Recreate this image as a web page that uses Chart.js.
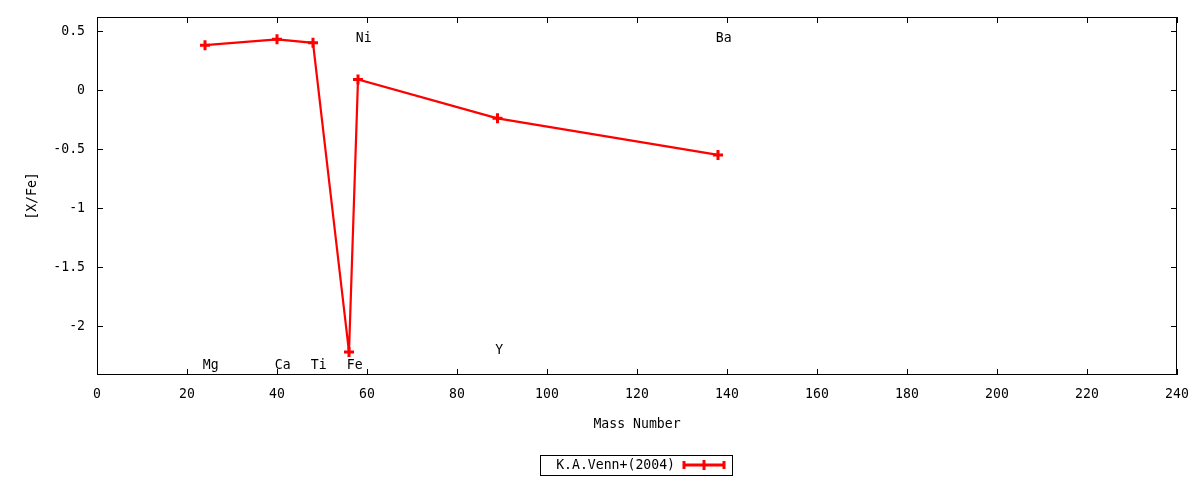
<!DOCTYPE html>
<html>
<head>
<meta charset="utf-8">
<script src="https://cdn.jsdelivr.net/npm/chart.js@4.4.1/dist/chart.umd.min.js"></script>
<style>
  html, body { margin: 0; padding: 0; background: #fff; }
  #wrap { width: 1200px; height: 480px; }
</style>
</head>
<body>
<div id="wrap"><canvas id="abund"></canvas></div>
<script>
// measured abundances, K.A.Venn+(2004)
const massNumber = [24, 40, 48, 56, 58, 89, 138];
const xFe = [0.38, 0.43, 0.40, -2.22, 0.09, -0.24, -0.55];

// element labels (left-justified at their data position)
const elemNames = ['Mg', 'Ca', 'Ti', 'Fe', 'Ni', 'Y', 'Ba'];
const elemX = [23.5, 39.5, 47.5, 55.5, 57.5, 88.5, 137.5];
const elemY = [-2.33, -2.33, -2.33, -2.33, 0.44, -2.21, 0.44];

const xTicks = [0, 20, 40, 60, 80, 100, 120, 140, 160, 180, 200, 220, 240];
const yTicks = [-2, -1.5, -1, -0.5, 0, 0.5];

const FONT = '"DejaVu Sans Mono", monospace';
const RED = '#ff0000';

// gnuplot's font is a bit narrower than DejaVu Sans Mono
function text(ctx, str, x, y, align) {
    ctx.save();
    ctx.translate(x, y);
    ctx.scale(0.94, 1);
    ctx.textAlign = align;
    ctx.fillText(str, 0, 0);
    ctx.restore();
}

const gnuplotLook = {
    id: 'gnuplotLook',
    afterDraw(chart) {
        const ctx = chart.ctx;
        const a = chart.chartArea;
        const xs = chart.scales.x, ys = chart.scales.y;
        ctx.save();
        // frame
        ctx.strokeStyle = '#000';
        ctx.lineWidth = 1;
        ctx.strokeRect(a.left + 0.5, a.top + 0.5, a.right - a.left - 1, a.bottom - a.top - 1);
        // inward ticks on all sides
        ctx.beginPath();
        xTicks.forEach(v => {
            const px = Math.round(xs.getPixelForValue(v)) + 0.5;
            ctx.moveTo(px, a.bottom); ctx.lineTo(px, a.bottom - 6);
            ctx.moveTo(px, a.top); ctx.lineTo(px, a.top + 6);
        });
        yTicks.forEach(v => {
            const py = Math.round(ys.getPixelForValue(v)) + 0.5;
            ctx.moveTo(a.left, py); ctx.lineTo(a.left + 6, py);
            ctx.moveTo(a.right, py); ctx.lineTo(a.right - 6, py);
        });
        ctx.stroke();

        ctx.fillStyle = '#000';
        ctx.font = '14px ' + FONT;
        ctx.textBaseline = 'middle';

        // tick labels
        xTicks.forEach(v => text(ctx, String(v), xs.getPixelForValue(v), a.bottom + 19, 'center'));
        yTicks.forEach(v => text(ctx, String(v), a.left - 12, ys.getPixelForValue(v), 'right'));

        // element labels
        elemNames.forEach((n, i) => {
            text(ctx, n, xs.getPixelForValue(elemX[i]), ys.getPixelForValue(elemY[i]), 'left');
        });

        // axis titles
        text(ctx, 'Mass Number', (a.left + a.right) / 2, 424, 'center');
        ctx.save();
        ctx.translate(32, (a.top + a.bottom) / 2);
        ctx.rotate(-Math.PI / 2);
        text(ctx, '[X/Fe]', 0, 0, 'center');
        ctx.restore();

        // legend
        const ds = chart.data.datasets[0];
        ctx.strokeRect(540.5, 455.5, 192, 20);
        text(ctx, ds.label, 675, 465, 'right');
        ctx.strokeStyle = RED;
        ctx.lineWidth = 3;
        ctx.beginPath();
        ctx.moveTo(684, 465); ctx.lineTo(724, 465);
        ctx.moveTo(684, 461); ctx.lineTo(684, 469);
        ctx.moveTo(724, 461); ctx.lineTo(724, 469);
        ctx.moveTo(704, 460); ctx.lineTo(704, 470);
        ctx.stroke();
        ctx.restore();
    }
};

new Chart(document.getElementById('abund'), {
    type: 'line',
    data: {
        datasets: [{
            label: 'K.A.Venn+(2004)',
            data: massNumber.map((m, i) => ({ x: m, y: xFe[i] })),
            borderColor: RED,
            backgroundColor: RED,
            borderWidth: 2.2,
            tension: 0,
            pointStyle: 'cross',
            pointRadius: 5,
            pointBorderWidth: 3,
            pointHoverRadius: 5
        }]
    },
    plugins: [gnuplotLook],
    options: {
        responsive: true,
        maintainAspectRatio: false,
        animation: false,
        events: [],
        layout: { padding: { left: 0, top: 17, right: 23, bottom: 0 } },
        plugins: { legend: { display: false }, tooltip: { enabled: false } },
        scales: {
            x: {
                type: 'linear',
                min: 0, max: 240,
                grid: { display: false },
                border: { display: false },
                ticks: { display: false },
                afterFit: s => { s.height = 105; }
            },
            y: {
                type: 'linear',
                min: -2.415, max: 0.619,
                grid: { display: false },
                border: { display: false },
                ticks: { display: false },
                afterFit: s => { s.width = 97; }
            }
        }
    }
});
</script>
</body>
</html>
